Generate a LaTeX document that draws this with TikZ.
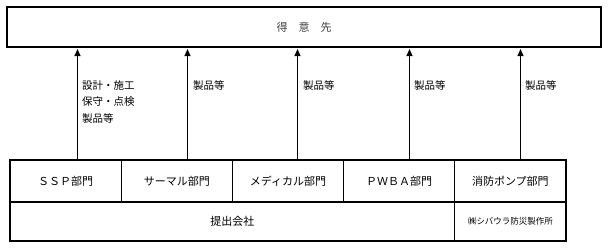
\documentclass[tikz,border=0pt]{standalone}
\usepackage{fontspec}
\newfontfamily\jp{Noto Sans CJK JP}
\usetikzlibrary{arrows.meta}
\begin{document}
\begin{tikzpicture}[x=1pt,y=1pt,
  box/.style={draw,line width=1.1pt,inner sep=0pt,font=\jp\fontsize{11}{13}\selectfont},
  arr/.style={line width=1.1pt,-{Triangle[length=7pt,width=6pt]},shorten >=1.5pt},
  lbl/.style={anchor=north west,inner sep=0pt,align=left,font=\jp\fontsize{10.5}{16.5}\selectfont}]
\useasboundingbox (0,0) rectangle (608,250);
\node[box,minimum width=594pt,minimum height=40pt,text=black!75] (top) at (304,223) {得　意　先};
\node[box,minimum width=111.2pt,minimum height=42pt] (d1) at (65.6,69) {ＳＳＰ部門};
\node[box,minimum width=111.2pt,minimum height=42pt] (d2) at (176.8,69) {サーマル部門};
\node[box,minimum width=111.2pt,minimum height=42pt] (d3) at (288,69) {メディカル部門};
\node[box,minimum width=111.2pt,minimum height=42pt] (d4) at (399.2,69) {ＰＷＢＡ部門};
\node[box,minimum width=111.2pt,minimum height=42pt] (d5) at (510.4,69) {消防ポンプ部門};
\node[box,minimum width=444.8pt,minimum height=39pt] (co) at (232.4,28.5) {提出会社};
\node[box,minimum width=111.2pt,minimum height=39pt,font=\jp\fontsize{8.5}{10}\selectfont] (sh) at (510.4,28.5) {㈱シバウラ防災製作所};
\foreach \i/\s in {1/11.9,2/10.7,3/9.5,4/10.3,5/10.1}{
  \draw[arr] ([xshift=\s pt]d\i.north) -- ([xshift=\s pt]d\i.north |- top.south);
}
\node[lbl] (l1) at (82,170) {設計・施工\\保守・点検\\製品等};
\node[lbl] (l2) at (193,170) {製品等};
\node[lbl] (l3) at (303,170) {製品等};
\node[lbl] (l4) at (414,170) {製品等};
\node[lbl] (l5) at (525,170) {製品等};
\end{tikzpicture}
\end{document}
